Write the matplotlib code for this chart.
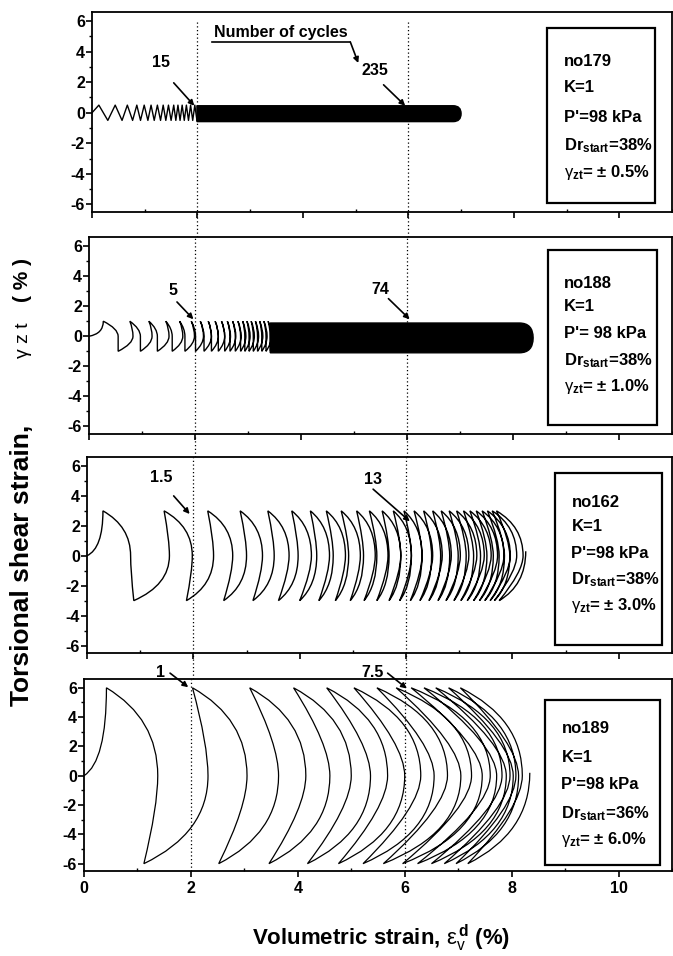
import matplotlib
matplotlib.use('Agg')
import matplotlib.pyplot as plt
from matplotlib.path import Path
from matplotlib.patches import PathPatch, Rectangle
from matplotlib import font_manager as fm
from matplotlib.ticker import MultipleLocator


def has_font(name):
    try:
        fm.findfont(fm.FontProperties(family=name), fallback_to_default=False)
        return True
    except Exception:
        return False


NARROW = 'Liberation Sans Narrow' if has_font('Liberation Sans Narrow') else 'Liberation Sans'
BASE = 'Liberation Sans'
plt.rcParams['font.family'] = [BASE, 'DejaVu Sans']
plt.rcParams['axes.unicode_minus'] = False
plt.rcParams['mathtext.fontset'] = 'custom'
plt.rcParams['mathtext.rm'] = NARROW + ':bold'
plt.rcParams['mathtext.bf'] = NARROW + ':bold'
plt.rcParams['mathtext.sf'] = BASE
plt.rcParams['mathtext.it'] = BASE + ':italic'

# ---------------- data ----------------
x_ticks = [0, 2, 4, 6, 8, 10]
y_ticks = [-6, -4, -2, 0, 2, 4, 6]
marker_lines_x = [2, 6]

tests = ['no179', 'no188', 'no162', 'no189']
K_values = ['K=1', 'K=1', 'K=1', 'K=1']
p_labels = ["P'=98 kPa", "P'= 98 kPa", "P'=98 kPa", "P'=98 kPa"]
dr_start = ['38%', '38%', '38%', '36%']
gamma_amp_labels = ['± 0.5%', '± 1.0%', '± 3.0%', '± 6.0%']
amplitudes = [0.5, 1.0, 3.0, 6.0]

# panel 1 (no179): turning points of the first cycles (alternating +/-)
p1_peaks = [0.13, 0.30, 0.44, 0.57, 0.67, 0.77, 0.85, 0.92, 0.99, 1.06,
            1.12, 1.18, 1.24, 1.30, 1.35, 1.40, 1.45, 1.50, 1.55, 1.59,
            1.63, 1.67, 1.71, 1.75, 1.79, 1.83, 1.87, 1.91, 1.95, 1.99]
# dense part: start, end of straight part, rightmost, lower, upper strain
p1_dense = [1.99, 6.85, 7.00, -0.58, 0.46]

# panel 2 (no188)
p2_peaks = [0.27, 0.55, 0.77, 0.97, 1.13, 1.29, 1.45, 1.57, 1.71, 1.81,
            1.93, 2.01, 2.10, 2.17, 2.25, 2.31, 2.38, 2.44, 2.50, 2.56,
            2.61, 2.66, 2.71, 2.76, 2.81, 2.86, 2.90, 2.94, 2.98, 3.02,
            3.06, 3.10, 3.14, 3.18, 3.22, 3.26, 3.30, 3.34, 3.38, 3.42]
p2_bulges = [0.55, 0.83, 0.97, 1.19, 1.29, 1.51, 1.57, 1.77, 1.81, 1.99,
             2.01, 2.16, 2.17, 2.31, 2.31, 2.44, 2.44, 2.56, 2.56, 2.67,
             2.66, 2.77, 2.76, 2.87, 2.86, 2.96, 2.94, 3.04, 3.02, 3.12,
             3.10, 3.20, 3.18, 3.28, 3.26, 3.36, 3.34, 3.44, 3.42]
p2_dense = [3.42, 8.12, 8.38, -1.10, 0.88]

# panel 3 (no162): alternating top / bottom turning points and rightmost points
p3_peaks = [0.30, 0.88, 1.45, 1.87, 2.27, 2.57, 2.88, 3.12, 3.40, 3.60,
            3.85, 4.00, 4.20, 4.36, 4.50, 4.67, 4.78, 4.95, 5.07, 5.21,
            5.31, 5.45, 5.55, 5.68, 5.76, 5.88, 5.96, 6.08, 6.15, 6.26,
            6.33, 6.43, 6.50, 6.60, 6.66, 6.75, 6.81, 6.90, 6.95, 7.03,
            7.08, 7.15, 7.20, 7.27, 7.32, 7.38, 7.43, 7.48, 7.53, 7.58,
            7.62, 7.66, 7.70, 7.75]
p3_bulges = [0.82, 1.55, 1.98, 2.38, 2.74, 3.00, 3.30, 3.52, 3.80, 3.97,
             4.22, 4.32, 4.56, 4.63, 4.86, 4.92, 5.14, 5.20, 5.42, 5.45,
             5.66, 5.68, 5.90, 5.90, 6.10, 6.10, 6.30, 6.30, 6.50, 6.48,
             6.68, 6.65, 6.85, 6.82, 7.02, 6.98, 7.18, 7.13, 7.33, 7.27,
             7.47, 7.40, 7.60, 7.52, 7.72, 7.64, 7.84, 7.75, 7.96, 7.85,
             8.08, 7.95, 8.20]
p3_tail = [8.25, 0.3]

# panel 4 (no189)
p4_peaks = [0.42, 1.12, 2.03, 2.52, 3.10, 3.46, 3.92, 4.18, 4.54, 4.76,
            5.05, 5.22, 5.48, 5.60, 5.84, 5.96, 6.12, 6.24, 6.36, 6.50,
            6.58, 6.74, 6.82, 6.96, 7.04, 7.18]
p4_bulges = [1.38, 2.32, 3.05, 3.64, 4.15, 4.60, 5.00, 5.36, 5.68, 6.00,
             6.30, 6.55, 6.80, 7.05, 7.25, 7.45, 7.60, 7.72, 7.82, 7.90,
             7.97, 8.03, 8.08, 8.13, 8.20]
p4_tail = [8.34, 0.2]

# annotations: (label, text x, text y, arrow start x, y, arrow tip x, y)
annotations = [
    [('15', 1.31, 3.3, 1.55, 1.96, 1.94, 0.46),
     ('235', 5.36, 2.8, 5.53, 1.83, 5.94, 0.46)],
    [('5', 1.58, 3.06, 1.66, 2.28, 1.97, 1.13),
     ('74', 5.49, 3.1, 5.65, 2.5, 6.05, 1.13)],
    [('1.5', 1.39, 5.2, 1.63, 4.0, 1.93, 2.79),
     ('13', 5.37, 5.1, 5.38, 4.45, 6.07, 2.3)],
    [('1', 1.44, 7.05, 1.61, 7.0, 1.95, 6.04),
     ('7.5', 5.40, 7.05, 5.68, 7.0, 6.04, 5.95)],
]
cycles_title = 'Number of cycles'
cycles_underline = [2.27, 4.9, 4.63]
cycles_arrow_tip = [5.05, 3.26]

# ---------------- layout ----------------
W, H = 673, 956
RIGHT = 672
panel_px = [(92, 12, 212), (89, 237, 434), (87, 457, 653), (84, 679, 871)]
gaps_px = [25, 23, 26, 0]
boxes = [(0.785, 0.045, 0.97, 0.92), (0.787, 0.046, 0.974, 0.934),
         (0.80, 0.04, 0.983, 0.92), (0.784, 0.03, 0.98, 0.89)]
rows = [[0.75, 0.62, 0.475, 0.33, 0.20],
        [0.766, 0.645, 0.508, 0.371, 0.239],
        [0.77, 0.643, 0.51, 0.372, 0.24],
        [0.74, 0.59, 0.45, 0.30, 0.165]]
YLIM = (-6.5, 6.6)
XLIM = (0, 11)

fig = plt.figure(figsize=(W / 100, H / 100), dpi=100)


def loop_path(peaks, bulges, amp, tail=None, k1=0.65, k2=0.35):
    verts = [(0.0, 0.0), (peaks[0], amp / 6.0), (peaks[0], amp)]
    codes = [Path.MOVETO, Path.CURVE3, Path.CURVE3]
    sign = 1
    for i in range(1, len(peaks)):
        ys = sign * amp
        ye = -sign * amp
        xb = bulges[i - 1]
        verts += [(xb, ys * k1), (xb, 0.0), (xb, ye * k2), (peaks[i], ye)]
        codes += [Path.CURVE3] * 4
        sign = -sign
    if tail is not None:
        ys = sign * amp
        verts += [(tail[0], ys * k1), (tail[0], tail[1])]
        codes += [Path.CURVE3] * 2
    return Path(verts, codes)


def band_path(d):
    x0, x1, xr, ylo, yhi = d
    ym = (ylo + yhi) / 2
    verts = [(x0, ylo), (x0, yhi), (x1, yhi), (xr, yhi), (xr, ym),
             (xr, ylo), (x1, ylo), (x0, ylo)]
    codes = [Path.MOVETO, Path.LINETO, Path.LINETO, Path.CURVE3, Path.CURVE3,
             Path.CURVE3, Path.CURVE3, Path.CLOSEPOLY]
    return Path(verts, codes)


axes = []
for k, (l, t, b) in enumerate(panel_px):
    ax = fig.add_axes([l / W, 1 - b / H, (RIGHT - l) / W, (b - t) / H])
    axes.append(ax)
    ax.set_xlim(*XLIM)
    ax.set_ylim(*YLIM)
    ax.set_xticks(x_ticks)
    ax.set_yticks(y_ticks)
    ax.xaxis.set_minor_locator(MultipleLocator(1))
    ax.yaxis.set_minor_locator(MultipleLocator(1))
    ax.tick_params(axis='y', which='major', direction='out', length=4, width=1.2,
                   labelsize=11.5, pad=1)
    ax.tick_params(axis='y', which='minor', direction='out', length=2.5, width=1.0)
    ax.tick_params(axis='x', which='major', direction='out', length=4, width=1.2,
                   labelsize=11.5, pad=3)
    ax.tick_params(axis='x', which='minor', direction='in', length=2.5, width=1.0)
    for lab in ax.get_yticklabels() + ax.get_xticklabels():
        lab.set_fontweight('bold')
        lab.set_family(BASE)
    if k < 3:
        ax.tick_params(axis='x', labelbottom=False)
    for s in ax.spines.values():
        s.set_linewidth(1.3)

    # dotted reference lines
    ext = gaps_px[k] / (b - t)
    top = 0.955 if k == 0 else 1.0
    for xv in marker_lines_x:
        ax.axvline(xv, ymin=-ext, ymax=top, color='k', lw=0.9, ls=(0, (1, 2)),
                   clip_on=False, zorder=1)

    # info box
    x0, y0, x1, y1 = boxes[k]
    ax.add_patch(Rectangle((x0, y0), x1 - x0, y1 - y0, transform=ax.transAxes,
                           fill=False, lw=1.6, ec='k', zorder=5))
    tx = x0 + 0.028
    fs = 12
    tkw = dict(transform=ax.transAxes, fontsize=fs, family=NARROW,
               fontweight='bold', va='center', ha='left', zorder=6)
    ax.text(tx, rows[k][0], tests[k], **tkw)
    ax.text(tx, rows[k][1], K_values[k], **tkw)
    ax.text(tx, rows[k][2], p_labels[k], **tkw)
    ax.text(tx, rows[k][3], r'$\mathbf{Dr}_{\mathbf{start}}$=' + dr_start[k], **tkw)
    ax.text(tx, rows[k][4], r'$\mathsf{\gamma}_{\mathbf{zt}}$= ' + gamma_amp_labels[k],
            **tkw)

    # annotations
    for (lab, lx, ly, ax0, ay0, ax1, ay1) in annotations[k]:
        ax.text(lx, ly, lab, fontsize=11.5, family=NARROW, fontweight='bold',
                ha='center', va='center', clip_on=False)
        ax.annotate('', xy=(ax1, ay1), xytext=(ax0, ay0),
                    arrowprops=dict(arrowstyle='-|>', color='k', lw=1.2,
                                    mutation_scale=8, shrinkA=0, shrinkB=0),
                    annotation_clip=False)

# panel 1 curves
ax = axes[0]
ys1 = [amplitudes[0] * (1 if i % 2 == 0 else -1) for i in range(len(p1_peaks))]
ax.plot([0] + p1_peaks, [0] + ys1, color='k', lw=1.0)
ax.add_patch(PathPatch(band_path(p1_dense), fc='k', ec='k', lw=1.0))
ax.text((cycles_underline[0] + cycles_underline[1]) / 2, 5.25, cycles_title,
        fontsize=11.5, family=NARROW, fontweight='bold', ha='center', va='center')
ax.plot(cycles_underline[:2], [cycles_underline[2]] * 2, color='k', lw=1.2)
ax.annotate('', xy=tuple(cycles_arrow_tip), xytext=(cycles_underline[1], cycles_underline[2]),
            arrowprops=dict(arrowstyle='-|>', color='k', lw=1.2, mutation_scale=8,
                            shrinkA=0, shrinkB=0))

# panel 2 curves
ax = axes[1]
ax.add_patch(PathPatch(loop_path(p2_peaks, p2_bulges, amplitudes[1], k1=0.5, k2=0.5),
                       fc='none', ec='k', lw=1.0))
ax.add_patch(PathPatch(band_path(p2_dense), fc='k', ec='k', lw=1.0))

# panel 3 curves
ax = axes[2]
ax.add_patch(PathPatch(loop_path(p3_peaks, p3_bulges, amplitudes[2], tail=p3_tail),
                       fc='none', ec='k', lw=1.0))

# panel 4 curves
ax = axes[3]
ax.add_patch(PathPatch(loop_path(p4_peaks, p4_bulges, amplitudes[3], tail=p4_tail),
                       fc='none', ec='k', lw=0.9))

# axis titles
fig.text(381 / W, 1 - 938 / H,
         r'Volumetric strain, $\mathsf{\varepsilon}_{\mathsf{v}}^{\,\mathbf{d}}$ (%)',
         fontsize=16, family=NARROW, fontweight='bold', ha='center', va='center')
fig.text(22 / W, 1 - 565 / H, 'Torsional shear strain,', rotation=90,
         fontsize=19, family=NARROW, fontweight='bold', ha='center', va='center')
fig.text(24 / W, 1 - 340 / H, 'γ z t', rotation=90, fontsize=14, family=BASE,
         ha='center', va='center')
fig.text(22 / W, 1 - 280 / H, '( % )', rotation=90, fontsize=15, family=NARROW,
         fontweight='bold', ha='center', va='center')

fig.savefig('out.png', dpi=100)
